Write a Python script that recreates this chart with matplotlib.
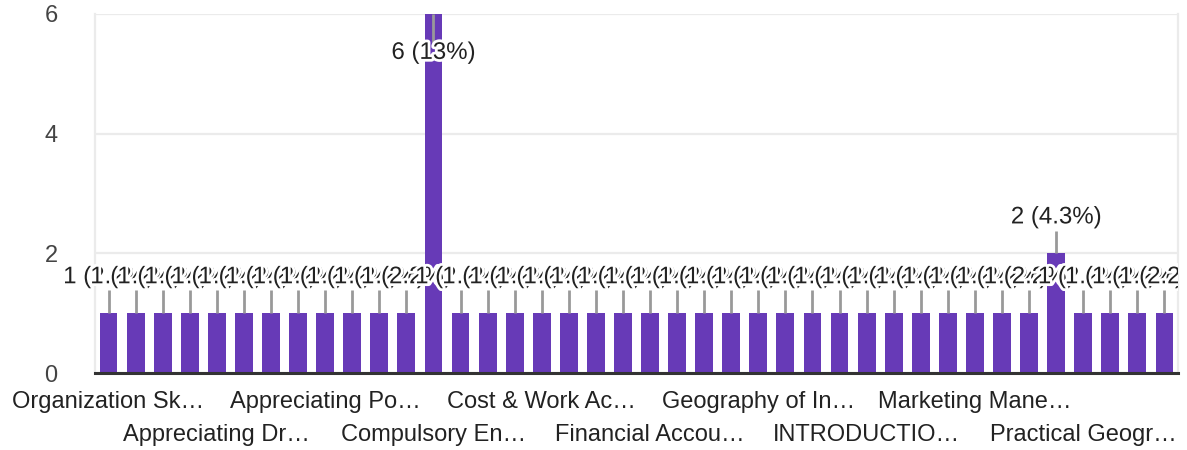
import matplotlib
matplotlib.use("Agg")
import matplotlib.pyplot as plt
import matplotlib.patheffects as pe
from matplotlib.transforms import Bbox
import numpy as np

# ---- data ----
values = [1] * 40
values[12] = 6
values[35] = 2
total = sum(values)

tick_labels = [""] * 40
tick_labels[0] = "Organization Sk…"
tick_labels[4] = "Appreciating Dr…"
tick_labels[8] = "Appreciating Po…"
tick_labels[12] = "Compulsory En…"
tick_labels[16] = "Cost & Work Ac…"
tick_labels[20] = "Financial Accou…"
tick_labels[24] = "Geography of In…"
tick_labels[28] = "INTRODUCTIO…"
tick_labels[32] = "Marketing Mane…"
tick_labels[36] = "Practical Geogr…"

yticks = [0, 2, 4, 6]

plt.rcParams['font.family'] = ['Liberation Sans', 'DejaVu Sans']

W, H = 1187, 450
fig = plt.figure(figsize=(W / 100, H / 100), dpi=100)
ax = fig.add_axes([95 / W, 1 - 373 / H, (1178 - 95) / W, (373 - 14) / H])

x = np.arange(len(values))
bar_color = "#673ab7"
ax.bar(x, values, width=0.66, color=bar_color, zorder=2, clip_on=True)

ax.set_xlim(-0.5, len(values) - 0.5)
ax.set_ylim(0, 6)
ax.set_yticks(yticks)
ax.set_yticklabels([str(v) for v in yticks], fontsize=17, color="#444444")
ax.tick_params(axis="y", length=0, pad=27)
ax.grid(axis="y", color="#ebebeb", linewidth=1.6, zorder=0)
ax.set_axisbelow(True)

for s in ["left", "right", "top"]:
    ax.spines[s].set_color("#ebebeb")
    ax.spines[s].set_linewidth(1.6)
ax.spines["top"].set_visible(False)
ax.spines["bottom"].set_color("#333333")
ax.spines["bottom"].set_linewidth(2.2)
ax.spines["bottom"].set_zorder(5)

ax.set_xticks(x)
ax.tick_params(axis="x", length=0)
ax.set_xticklabels([""] * len(x))
for i, lab in enumerate(tick_labels):
    if lab:
        row = (i // 4) % 2
        ax.annotate(lab, xy=(i, 0), xycoords=("data", "axes fraction"),
                    xytext=(0, -29 - row * 33), textcoords="offset pixels",
                    ha="center", va="center", fontsize=17, color="#222222")

clip = Bbox.from_extents(0, 0, 1178, H)
halo = [pe.withStroke(linewidth=4, foreground="white")]
for i, v in enumerate(values):
    pct = v / total * 100
    txt = f"{v} ({pct:.2g}%)" if pct >= 10 else f"{v} ({pct:.1f}%)"
    if v >= 6:
        line_end = 5.45
        ty = 5.35
    else:
        line_end = v + 0.38
        ty = v + 0.6
    ax.plot([i, i], [v, line_end], color="#999999", linewidth=2, zorder=3 + i * 0.01,
            solid_capstyle="butt", clip_on=False)
    t = ax.text(i, ty, txt, ha="center", va="center", fontsize=17.3, color="#222222",
                path_effects=halo, zorder=4 + i * 0.01)
    t.set_clip_box(clip)
    t.set_clip_on(True)

fig.savefig("out.png", dpi=100, facecolor="white")
